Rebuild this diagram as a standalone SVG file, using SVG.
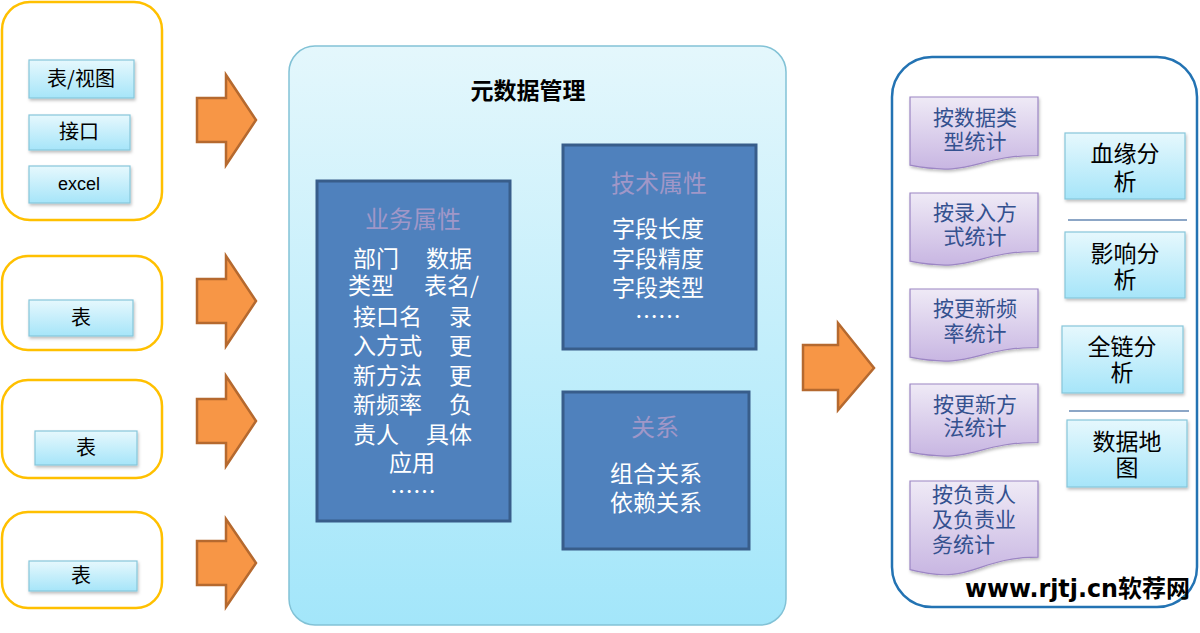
<svg xmlns="http://www.w3.org/2000/svg" width="1200" height="633" viewBox="0 0 1200 633">
<defs>
<linearGradient id="gCyan" x1="0" y1="0" x2="0" y2="1"><stop offset="0" stop-color="#E6F8FD"/><stop offset="1" stop-color="#A6E5F9"/></linearGradient>
<linearGradient id="gMain" x1="0" y1="0" x2="0" y2="1"><stop offset="0" stop-color="#E4F7FC"/><stop offset="1" stop-color="#A3E6FA"/></linearGradient>
<linearGradient id="gDoc" x1="0" y1="0" x2="0" y2="1"><stop offset="0" stop-color="#EFEAF6"/><stop offset="1" stop-color="#C8B6E2"/></linearGradient>
<filter id="sh" x="-10%" y="-10%" width="130%" height="140%"><feDropShadow dx="1" dy="2" stdDeviation="1.5" flood-color="#000" flood-opacity="0.25"/></filter>
<style>
.yb{fill:#fff;stroke:#FFC000;stroke-width:2.5}
.cy{fill:url(#gCyan);stroke:#86C6DA;stroke-width:1.2;filter:url(#sh)}
.arr{fill:#F79646;stroke:#B5692F;stroke-width:2.5;stroke-linejoin:miter}
.blue{fill:#4F81BD;stroke:#385D8A;stroke-width:3}
.doc{fill:url(#gDoc);stroke:#9C86C4;stroke-width:1.2;filter:url(#sh)}
.cjk{font-family:"Noto Sans CJK SC","Liberation Sans",sans-serif}
.lt{font-size:20px;fill:#000;text-anchor:middle}
.bt{font-size:23px;fill:#fff}
.tt{font-size:24px;fill:#A097C8;text-anchor:middle}
.dt{font-size:21px;fill:#34518F;text-anchor:middle}
.dl{font-size:21px;fill:#34518F;text-anchor:start}
.rt{font-size:23px;fill:#000;text-anchor:middle}
.sep{stroke:#8CA6C6;stroke-width:2}
</style>
</defs>
<rect width="1200" height="633" fill="#fff"/>

<g id="source1">
<rect class="yb" x="2" y="2" width="160" height="218" rx="28"/>
<rect class="cy" x="29" y="60" width="105" height="38"/>
<text class="cjk lt" x="81" y="86">表/视图</text>
<rect class="cy" x="29" y="115" width="101" height="35"/>
<text class="cjk lt" x="79" y="139">接口</text>
<rect class="cy" x="29" y="166" width="101" height="37"/>
<text x="79" y="190" font-family="Liberation Sans, sans-serif" font-size="18" text-anchor="middle" fill="#000">excel</text>
</g>
<g id="source2">
<rect class="yb" x="2" y="256" width="160" height="94" rx="26"/>
<rect class="cy" x="29" y="300" width="104" height="36"/>
<text class="cjk lt" x="81" y="325">表</text>
</g>
<g id="source3">
<rect class="yb" x="2" y="380" width="160" height="98" rx="26"/>
<rect class="cy" x="35" y="431" width="102" height="34"/>
<text class="cjk lt" x="86" y="455">表</text>
</g>
<g id="source4">
<rect class="yb" x="2" y="512" width="160" height="96" rx="26"/>
<rect class="cy" x="29" y="561" width="108" height="30"/>
<text class="cjk lt" x="81" y="583">表</text>
</g>

<g id="connectors">
<path class="arr" d="M197,98 H226 V75 L256,120 L226,165 V142 H197 Z"/>
<path class="arr" d="M197,279 H226 V256 L256,301 L226,346 V323 H197 Z"/>
<path class="arr" d="M197,399 H226 V376 L256,421 L226,466 V443 H197 Z"/>
<path class="arr" d="M197,541 H226 V519 L256,563 L226,607 V585 H197 Z"/>
<path class="arr" d="M803,345 H838 V323 L874,368 L838,410 V390 H803 Z"/>
</g>

<g id="metadata">
<rect x="289" y="46" width="497" height="579" rx="26" fill="url(#gMain)" stroke="#82C2D6" stroke-width="1.5"/>
<text class="cjk" x="528" y="99" font-size="23" font-weight="bold" text-anchor="middle" fill="#000">元数据管理</text>
</g>

<g id="business">
<rect class="blue" x="317" y="181" width="193" height="340"/>
<text class="cjk tt" x="413" y="228">业务属性</text>
<text class="cjk bt"><tspan x="353" y="267">部门</tspan><tspan x="472" y="267" text-anchor="end">数据</tspan><tspan x="348" y="294">类型</tspan><tspan x="479" y="294" text-anchor="end">表名/</tspan><tspan x="353" y="325">接口名</tspan><tspan x="472" y="325" text-anchor="end">录</tspan><tspan x="353" y="354">入方式</tspan><tspan x="472" y="354" text-anchor="end">更</tspan><tspan x="353" y="384">新方法</tspan><tspan x="472" y="384" text-anchor="end">更</tspan><tspan x="353" y="413">新频率</tspan><tspan x="472" y="413" text-anchor="end">负</tspan><tspan x="353" y="443">责人</tspan><tspan x="472" y="443" text-anchor="end">具体</tspan><tspan x="412" y="471" text-anchor="middle">应用</tspan><tspan x="413" y="500" text-anchor="middle">……</tspan></text>
</g>

<g id="technical">
<rect class="blue" x="563" y="145" width="193" height="204"/>
<text class="cjk tt" x="659" y="192">技术属性</text>
<text class="cjk bt" text-anchor="middle"><tspan x="658" y="237">字段长度</tspan><tspan x="658" y="267">字段精度</tspan><tspan x="658" y="296">字段类型</tspan><tspan x="658" y="325">……</tspan></text>
</g>

<g id="relation">
<rect class="blue" x="563" y="392" width="186" height="157"/>
<text class="cjk tt" x="655" y="436">关系</text>
<text class="cjk bt" text-anchor="middle"><tspan x="656" y="482">组合关系</tspan><tspan x="656" y="511">依赖关系</tspan></text>
</g>

<g id="analysis">
<rect x="892" y="57" width="305" height="550" rx="40" fill="#fff" stroke="#2373B3" stroke-width="2.5"/>
</g>

<g id="doc1">
<path class="doc" d="M910,97 H1038 V155.5 C974,155.5 974,177.8 910,165.2 Z"/>
<text class="cjk dt"><tspan x="975" y="125">按数据类</tspan><tspan x="975" y="149">型统计</tspan></text>
</g>
<g id="doc2">
<path class="doc" d="M910,193 H1038 V251.5 C974,251.5 974,273.8 910,261.2 Z"/>
<text class="cjk dt"><tspan x="975" y="220">按录入方</tspan><tspan x="975" y="244">式统计</tspan></text>
</g>
<g id="doc3">
<path class="doc" d="M910,289 H1038 V347.5 C974,347.5 974,369.8 910,357.2 Z"/>
<text class="cjk dt"><tspan x="975" y="316">按更新频</tspan><tspan x="975" y="341">率统计</tspan></text>
</g>
<g id="doc4">
<path class="doc" d="M910,384 H1038 V442.5 C974,442.5 974,464.8 910,452.2 Z"/>
<text class="cjk dt"><tspan x="975" y="412">按更新方</tspan><tspan x="975" y="435">法统计</tspan></text>
</g>
<g id="doc5">
<path class="doc" d="M910,481 H1038 V557.2 C974,557.2 974,586.2 910,569.7 Z"/>
<text class="cjk dl"><tspan x="932" y="502">按负责人</tspan><tspan x="932" y="527">及负责业</tspan><tspan x="932" y="552">务统计</tspan></text>
</g>

<g id="lineage">
<rect class="cy" x="1065" y="133" width="120" height="66"/>
<text class="cjk rt"><tspan x="1125" y="162">血缘分</tspan><tspan x="1125" y="190">析</tspan></text>
</g>
<line class="sep" x1="1068" y1="220" x2="1187" y2="220"/>
<g id="impact">
<rect class="cy" x="1065" y="232" width="120" height="66"/>
<text class="cjk rt"><tspan x="1125" y="262">影响分</tspan><tspan x="1125" y="288">析</tspan></text>
</g>
<g id="fullchain">
<rect class="cy" x="1062" y="326" width="121" height="67"/>
<text class="cjk rt"><tspan x="1122" y="355">全链分</tspan><tspan x="1122" y="381">析</tspan></text>
</g>
<line class="sep" x1="1069" y1="411" x2="1189" y2="411"/>
<g id="datamap">
<rect class="cy" x="1067" y="420" width="120" height="67"/>
<text class="cjk rt"><tspan x="1127" y="450">数据地</tspan><tspan x="1127" y="476">图</tspan></text>
</g>

<text x="965" y="597" font-family="DejaVu Sans, sans-serif" font-weight="bold" font-size="24" fill="#000" textLength="153" lengthAdjust="spacingAndGlyphs">www.rjtj.cn</text>
<text x="1118" y="597" font-family="Noto Sans CJK SC, sans-serif" font-weight="bold" font-size="24" fill="#000">软荐网</text>
</svg>
